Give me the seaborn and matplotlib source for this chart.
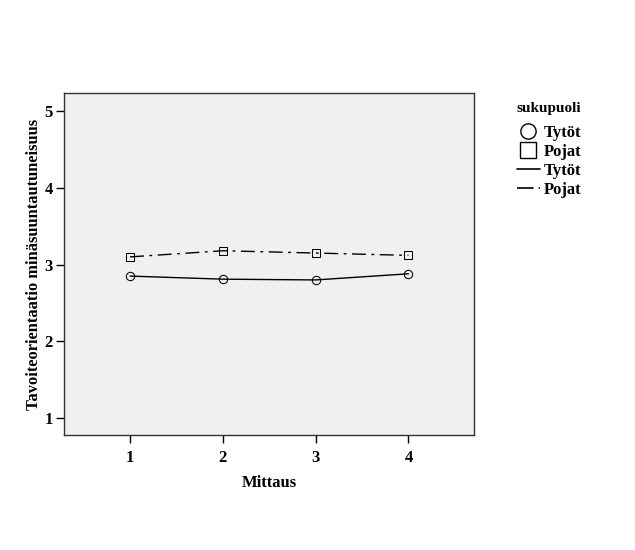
import pandas as pd
import seaborn as sns
import matplotlib.pyplot as plt
from matplotlib.lines import Line2D

# Estimated marginal means
mittaus = [1, 2, 3, 4]
tytot = [2.85, 2.81, 2.80, 2.88]
pojat = [3.10, 3.18, 3.15, 3.12]

df = pd.DataFrame({
    "Mittaus": mittaus * 2,
    "arvo": tytot + pojat,
    "sukupuoli": ["Tytöt"] * 4 + ["Pojat"] * 4,
})

sns.set_style("white")
plt.rcParams["font.family"] = ["Liberation Serif", "DejaVu Serif"]
plt.rcParams["font.weight"] = "bold"
plt.rcParams["text.color"] = "black"
plt.rcParams["axes.labelcolor"] = "black"
plt.rcParams["xtick.color"] = "black"
plt.rcParams["ytick.color"] = "black"

fig = plt.figure(figsize=(6.35, 5.5), dpi=100)
ax = fig.add_axes([0.101, 0.209, 0.646, 0.622])
ax.set_facecolor("#f0f0f0")

sns.lineplot(data=df[df.sukupuoli == "Tytöt"], x="Mittaus", y="arvo", ax=ax,
             color="black", lw=1.0, marker="o", markersize=6,
             markerfacecolor="none", markeredgecolor="black", legend=False)
sns.lineplot(data=df[df.sukupuoli == "Pojat"], x="Mittaus", y="arvo", ax=ax,
             color="black", lw=1.0, marker="s", markersize=6,
             markerfacecolor="none", markeredgecolor="black", legend=False,
             dashes=False, linestyle=(0, (10, 4, 2, 4)))

ax.set_xlim(0.29, 4.71)
ax.set_ylim(0.78, 5.235)
ax.set_xticks(mittaus)
ax.set_yticks([1, 2, 3, 4, 5])
ax.tick_params(axis="both", which="major", length=6, width=1, color="black",
               labelsize=12, direction="out", bottom=True, left=True)
ax.tick_params(axis="x", pad=5)
ax.tick_params(axis="y", pad=2)
for s in ax.spines.values():
    s.set_color("#333333")
    s.set_linewidth(1)

ax.set_xlabel("Mittaus", fontsize=12, fontweight="bold", labelpad=6)
ax.set_ylabel("Tavoiteorientaatio minäsuuntautuneisuus", fontsize=11.8,
              fontweight="bold", labelpad=2)

handles = [
    Line2D([], [], ls="none", marker="o", markersize=11, markerfacecolor="none", markeredgecolor="black"),
    Line2D([], [], ls="none", marker="s", markersize=11, markerfacecolor="none", markeredgecolor="black"),
    Line2D([], [], color="black", lw=1.2),
    Line2D([], [], color="black", lw=1.2, linestyle=(0, (10, 3, 2, 3))),
]
leg = fig.legend(handles, ["Tytöt", "Pojat", "Tytöt", "Pojat"], title="sukupuoli",
                 loc="upper left", bbox_to_anchor=(0.803, 0.826), frameon=False,
                 fontsize=12, title_fontsize=11, handlelength=1.4,
                 handletextpad=0.2, labelspacing=0.18, borderaxespad=0)
leg.get_title().set_fontweight("bold")
leg._legend_box.sep = 7

fig.savefig("out.png", dpi=100)
